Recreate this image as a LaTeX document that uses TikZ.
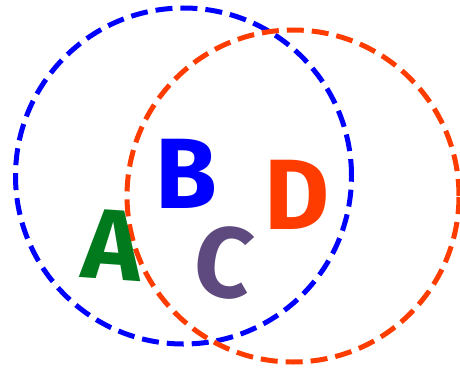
\documentclass[tikz,border=0pt]{standalone}
\usepackage{fontspec}
\setmainfont{Fira Sans}
\definecolor{setblue}{HTML}{0000FF}
\definecolor{setred}{HTML}{FF3C00}
\definecolor{agreen}{HTML}{007A1C}
\definecolor{cpurple}{HTML}{5E4A7E}

\begin{document}
\begin{tikzpicture}[x=1pt,y=1pt,
  setline/.style={line width=5pt,dash pattern=on 17pt off 8pt},
  letter/.style={font=\fontsize{100}{100}\selectfont\bfseries,inner sep=0pt}]

  \useasboundingbox (0,0) rectangle (460,373);

  % --- the two sets ---
  \draw[setblue,setline] (183.5,197) circle (168);
  \draw[setred,setline]  (293,177)   circle (166);

  % --- region labels ---
  \node[letter,agreen,rotate=-4]  (la) at (112,128) {A};
  \node[letter,setblue]           (lb) at (186,199) {B};
  \node[letter,cpurple,rotate=-8] (lc) at (224,111) {C};
  \node[letter,setred]            (ld) at (297,178) {D};

\end{tikzpicture}
\end{document}
